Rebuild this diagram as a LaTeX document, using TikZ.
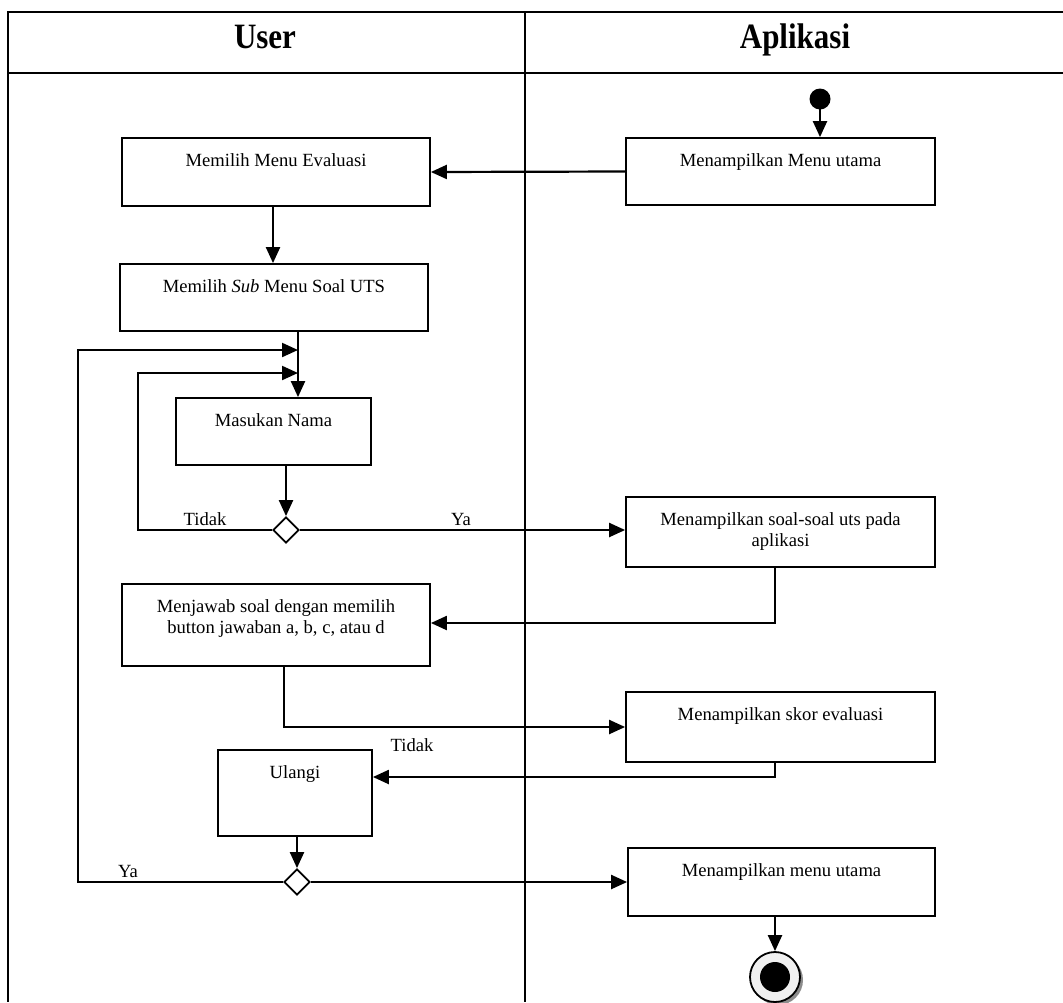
\documentclass[tikz,border=0pt]{standalone}
\usepackage{fontspec}
\setmainfont{Liberation Serif}
\usetikzlibrary{arrows.meta,shapes.geometric,calc}
\begin{document}
\begin{tikzpicture}[x=1pt,y=-1pt,
  box/.style={draw, line width=1.8pt, inner sep=0pt},
  txt/.style={anchor=north, inner sep=0pt, align=center, font=\fontsize{18.6}{21}\selectfont},
  lbl/.style={anchor=base, inner sep=0pt, font=\fontsize{18.6}{21}\selectfont},
  arr/.style={line width=2.2pt, -{Triangle[length=16pt,width=14pt]}},
  frame/.style={line width=2.8pt},
  choice/.style={diamond, draw, fill=white, line width=1.8pt, minimum width=26pt, minimum height=26pt, inner sep=0pt},
  head/.style={anchor=base, inner sep=0pt, font=\fontsize{31}{31}\selectfont\bfseries}]
\useasboundingbox (0,0) rectangle (1063,1002);
\fill[white] (0,0) rectangle (1063,1002);

% swimlane frame
\draw[frame] (1063,12) -- (8,12) -- (8,1002);
\draw[frame] (8,73) -- (1063,73);
\draw[frame] (525,12) -- (525,1002);
\node[head] (user) at (265,48) {\scalebox{1}[1.15]{User}};
\node[head] (app) at (795,48) {\scalebox{1}[1.15]{Aplikasi}};

% activities
\node[box, minimum width=309, minimum height=67] (a) at (780.5,171.5) {};
\node[box, minimum width=308, minimum height=68] (b) at (276,172) {};
\node[box, minimum width=308, minimum height=67] (c) at (274,297.5) {};
\node[box, minimum width=195, minimum height=67] (m) at (273.5,431.5) {};
\node[box, minimum width=309, minimum height=70] (d) at (780.5,532) {};
\node[box, minimum width=308, minimum height=82] (e) at (276,625) {};
\node[box, minimum width=309, minimum height=70] (f) at (780.5,727) {};
\node[box, minimum width=154, minimum height=86] (g) at (295,793) {};
\node[box, minimum width=307, minimum height=68] (h) at (781.5,882) {};

\node[txt] (a-t) at ([yshift=-16.3]a.north) {Menampilkan Menu utama};
\node[txt] (b-t) at ([yshift=-16.3]b.north) {Memilih Menu Evaluasi};
\node[txt] (c-t) at ([yshift=-16.3]c.north) {Memilih \textit{Sub} Menu Soal UTS};
\node[txt] (m-t) at ([yshift=-16.3]m.north) {Masukan Nama};
\node[txt] (d-t) at ([yshift=-16.3]d.north) {Menampilkan soal-soal uts pada\\aplikasi};
\node[txt] (e-t) at ([yshift=-16.3]e.north) {Menjawab soal dengan memilih\\button jawaban a, b, c, atau d};
\node[txt] (f-t) at ([yshift=-16.3]f.north) {Menampilkan skor evaluasi};
\node[txt] (g-t) at ([yshift=-16.3]g.north) {Ulangi};
\node[txt] (h-t) at ([yshift=-16.3]h.north) {Menampilkan menu utama};

% decisions
\node[choice] (d1) at (286,530) {};
\node[choice] (d2) at (297,882) {};

% initial and final states
\fill (820,99) circle (10.5);
\coordinate (start) at (820,99);
\fill[black!45] (778,980) circle (25);
\node[circle, draw, line width=1.8pt, fill=black!6, minimum size=50pt, inner sep=0pt] (endc) at (775,977) {};
\fill (endc) circle (15);

% loop junctions
\coordinate (merge1) at (298,350);
\coordinate (merge2) at (298,373);
\coordinate (back1) at (138,373);
\coordinate (back2) at (78,350);

% flows
\draw[arr] (start) -- (start |- a.north);
\draw[arr] (a.west) -- (b.east);
\draw[arr] ([xshift=-3]b.south) -- ([xshift=-3]b.south |- c.north);
\draw[arr] (c.south -| merge1) -- (merge1 |- m.north);
\draw[arr] (d1 |- m.south) -- (d1.north);
\draw[arr] (d1.west) -| (back1) -- (merge2);
\draw[arr] (d1.east) -- (d1.east -| d.west);
\draw[arr] ([xshift=-5.5]d.south) |- ([yshift=2]e.east);
\draw[arr] ([xshift=8]e.south) |- (f.west);
\draw[arr] ([xshift=-5.5]f.south) |- ([yshift=16]g.east);
\draw[arr] (d2 |- g.south) -- (d2.north);
\draw[arr] (d2.west) -| (back2) -- (merge1);
\draw[arr] (d2.east) -- (d2.east -| h.west);
\draw[arr] (endc.north |- h.south) -- (endc.north);

% guard labels
\node[lbl] (tidak1) at (205,525) {Tidak};
\node[lbl] (ya1) at (461,525) {Ya};
\node[lbl] (tidak2) at (412,751) {Tidak};
\node[lbl] (ya2) at (128,877) {Ya};
\end{tikzpicture}
\end{document}
